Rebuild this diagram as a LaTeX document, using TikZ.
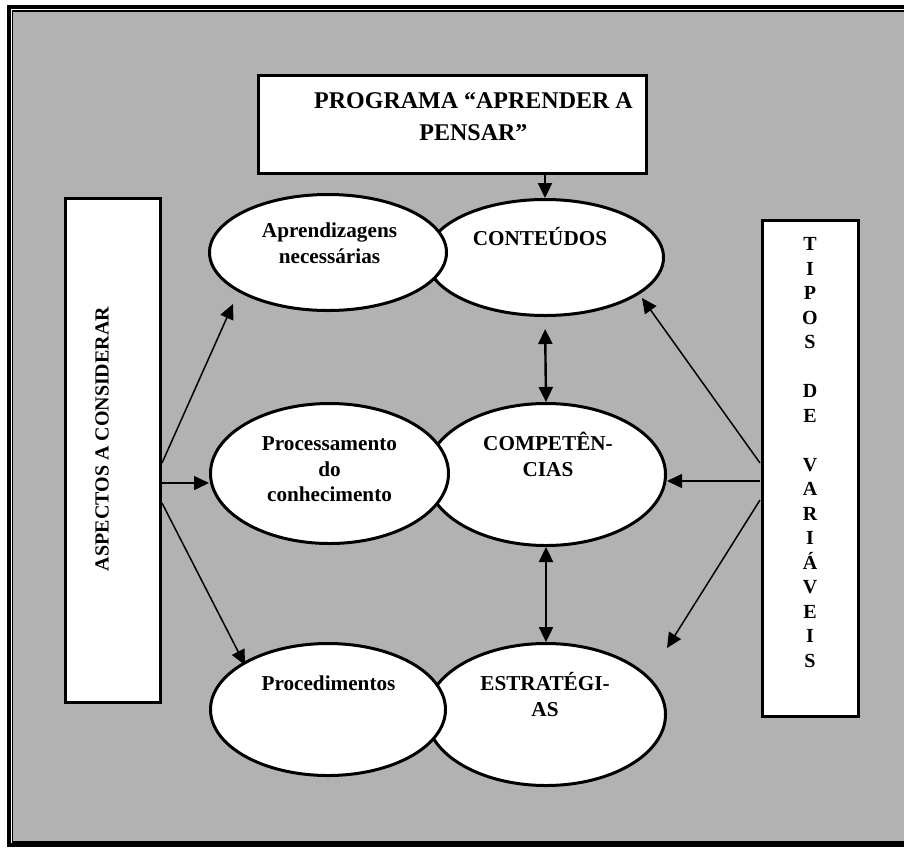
\documentclass[tikz,border=0pt]{standalone}
\usepackage{fontspec}
\setmainfont{Liberation Serif}
\usetikzlibrary{shapes.geometric,arrows.meta}
\begin{document}
\begin{tikzpicture}[x=0.5pt, y=-0.5pt, >={Triangle[length=7.5pt,width=7pt]},
    blob/.style={ellipse, draw=black, fill=white, line width=1.5pt, inner sep=0pt},
    panel/.style={rectangle, draw=black, fill=white, line width=1.5pt, inner sep=0pt},
    txt/.style={font=\fontsize{10.6}{12.8}\selectfont\bfseries, align=center, inner sep=0pt},
    link/.style={->, line width=0.75pt}]
    \useasboundingbox (0,0) rectangle (904,847);
    \fill[white] (0,0) rectangle (904,847);
    \fill[black!30] (12,11) rectangle (910,842);
    \draw[line width=0.8pt] (12.5,11) rectangle (912,841.8);
    \draw[line width=2pt] (8.7,7) rectangle (916,845);

    \node[panel, minimum width=194pt, minimum height=49pt] (prog) at (452.5,124.5) {};
    \node[panel, minimum width=47.5pt, minimum height=252pt] (asp) at (113,450.5) {};
    \node[panel, minimum width=47.75pt, minimum height=248pt] (tipos) at (810.25,468.5) {};

    \node[blob, minimum width=118.5pt, minimum height=58pt] (cont) at (545,257.5) {};
    \node[blob, minimum width=119.5pt, minimum height=71pt] (comp) at (546,474.5) {};
    \node[blob, minimum width=119.5pt, minimum height=71pt] (estr) at (546,714.5) {};
    \node[blob, minimum width=118.5pt, minimum height=58pt] (apr) at (328,252.5) {};
    \node[blob, minimum width=119pt, minimum height=70pt] (proc) at (329.5,473.5) {};
    \node[blob, minimum width=117.5pt, minimum height=66pt] (pcd) at (328,709.5) {};

    \node[txt, font=\fontsize{12}{16}\selectfont\bfseries] (prog-t) at (473.5,117) {PROGRAMA “APRENDER A\\PENSAR”};
    \node[txt, font=\fontsize{10}{12}\selectfont\bfseries, rotate=90] (asp-t) at (102,439) {ASPECTOS A CONSIDERAR};
    \node[txt, font=\fontsize{10}{12.25}\selectfont\bfseries] (tipos-t) at (810,452.5)
        {T\\I\\P\\O\\S\\[12.25pt]D\\E\\[12.25pt]V\\A\\R\\I\\Á\\V\\E\\I\\S};
    \node[txt] (apr-t) at (329.5,243) {Aprendizagens\\necessárias};
    \node[txt] (cont-t) at (540,237) {CONTEÚDOS};
    \node[txt] (proc-t) at (329.5,469.5) {Processamento\\do\\conhecimento};
    \node[txt] (comp-t) at (548,454.5) {COMPETÊN-\\CIAS};
    \node[txt] (pcd-t) at (328.5,683) {Procedimentos};
    \node[txt] (estr-t) at (545,694.5) {ESTRATÉGI-\\AS};

    \coordinate (asp-a) at (162,463);
    \coordinate (asp-b) at (162,483);
    \coordinate (asp-c) at (162,503);
    \coordinate (apr-in) at (233,304);
    \coordinate (proc-in) at (209,483);
    \coordinate (pcd-in) at (245,665);
    \coordinate (tipos-a) at (760,463);
    \coordinate (tipos-b) at (760,481);
    \coordinate (tipos-c) at (760,500);
    \coordinate (cont-in) at (642,298);
    \coordinate (comp-in) at (667,481);
    \coordinate (estr-in) at (667,648);

    \draw[->, line width=1pt] (prog.south -| cont.north) -- (cont.north);
    \draw[<->, line width=1.2pt, shorten <=6pt] (cont.south) -- (comp.north);
    \draw[<->, line width=1.2pt] (comp.south) -- (estr.north);

    \draw[link] (asp-a) -- (apr-in);
    \draw[link] (asp-b) -- (proc-in);
    \draw[link] (asp-c) -- (pcd-in);
    \draw[link] (tipos-a) -- (cont-in);
    \draw[link] (tipos-b) -- (comp-in);
    \draw[link] (tipos-c) -- (estr-in);
\end{tikzpicture}
\end{document}
